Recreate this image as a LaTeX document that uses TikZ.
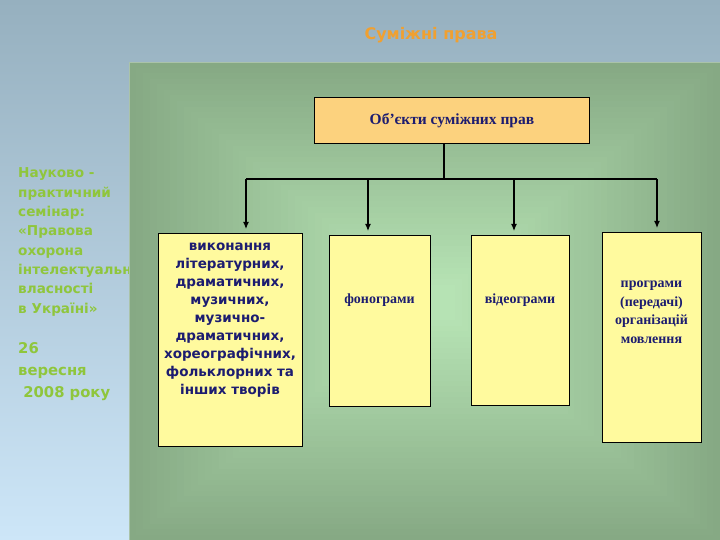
\documentclass[tikz,border=0pt]{standalone}
\usepackage{fontspec}
\setmainfont{Liberation Serif}
\newfontfamily\vsans{DejaVu Sans}
\usetikzlibrary{arrows.meta}
\definecolor{bgtop}{HTML}{96B0BF}
\definecolor{bgbot}{HTML}{CDE6F8}
\definecolor{panedge}{HTML}{86A984}
\definecolor{pancen}{HTML}{B6E3B4}
\definecolor{boxyellow}{HTML}{FFFA9E}
\definecolor{boxorange}{HTML}{FCD27E}
\definecolor{navytext}{HTML}{1C1C70}
\definecolor{leftgreen}{HTML}{8FC63C}
\definecolor{titleorange}{HTML}{F0A030}
\begin{document}
\begin{tikzpicture}[x=1pt,y=-1pt,
  conn/.style={line width=1.2pt, black},
  arr/.style={conn, -{Latex[length=7pt,width=6pt]}, shorten >=4pt},
  boxy/.style={draw=black, line width=0.9pt, fill=boxyellow, anchor=north west, inner sep=0pt},
  sanstext/.style={font=\vsans\bfseries\fontsize{13.5}{18}\selectfont, text=navytext, align=center, inner sep=0pt},
  seriftext/.style={font=\bfseries\fontsize{14}{18.5}\selectfont, text=navytext, align=center, inner sep=0pt},
  lefttext/.style={text=leftgreen, align=left, inner sep=0pt, anchor=base west}
]
\useasboundingbox (0,0) rectangle (720,540);
\shade[top color=bgtop, bottom color=bgbot] (0,0) rectangle (720,540);
% title
\node[font=\vsans\bfseries\fontsize{16}{19}\selectfont, text=titleorange, inner sep=0pt] (title) at (431,35) {Суміжні права};
% left text (base anchor = last line)
\node[lefttext, font=\vsans\bfseries\fontsize{13.6}{19.3}\selectfont] (lefta) at (18,313)
 {Науково -\\практичний\\семінар:\\«Правова\\охорона\\інтелектуальної\\власності\\в Україні»};
\node[lefttext, font=\vsans\bfseries\fontsize{14.8}{22}\selectfont] (leftb) at (18,397)
 {26\\вересня\\\ 2008 року};
% green panel: rectangular gradient from the edges to the centre
\foreach \i in {0,...,40}{
  \pgfmathsetmacro{\f}{\i/40}
  \pgfmathsetmacro{\xa}{129+\f*(405-129)}
  \pgfmathsetmacro{\ya}{62+\f*(285-62)}
  \pgfmathsetmacro{\xb}{720-\f*(720-455)}
  \pgfmathsetmacro{\yb}{540-\f*(540-320)}
  \pgfmathsetmacro{\p}{100*\f}
  \fill[pancen!\p!panedge] (\xa,\ya) rectangle (\xb,\yb);
}
\draw[color=panedge!70!white, line width=1pt] (129.5,540) -- (129.5,62.5) -- (720,62.5);
% top box
\node[draw=black, line width=0.9pt, fill=boxorange, anchor=north west, minimum width=275pt, minimum height=46pt, inner sep=0pt] (top) at (314,97) {};
\node[font=\bfseries\fontsize{15.5}{18}\selectfont, text=navytext, inner sep=0pt] (toptext) at (top.center) {Об’єкти суміжних прав};
% boxes
\node[boxy, minimum width=144pt, minimum height=213pt] (b1) at (158,233) {};
\node[boxy, minimum width=101pt, minimum height=171pt] (b2) at (329,235) {};
\node[boxy, minimum width=98pt, minimum height=170pt] (b3) at (471,235) {};
\node[boxy, minimum width=99pt, minimum height=210pt] (b4) at (602,232) {};
\node[sanstext] (t1) at (230,320) {виконання\\літературних,\\драматичних,\\музичних,\\музично-\\драматичних,\\хореографічних,\\фольклорних та\\інших творів};
\node[seriftext] (t2) at (379.5,300) {фонограми};
\node[seriftext] (t3) at (520,300) {відеограми};
\node[seriftext] (t4) at (651.5,312.5) {програми\\(передачі)\\організацій\\мовлення};
% connectors
\coordinate (j0) at (444,179);
\coordinate (h1) at (246,179);
\coordinate (h2) at (368,179);
\coordinate (h3) at (514,179);
\coordinate (h4) at (657,179);
\draw[conn] (top.south -| j0) -- (j0);
\draw[conn] (h1) -- (h4);
\draw[arr] (h1) -- (h1 |- b1.north);
\draw[arr] (h2) -- (h2 |- b2.north);
\draw[arr] (h3) -- (h3 |- b3.north);
\draw[arr] (h4) -- (h4 |- b4.north);
\end{tikzpicture}
\end{document}
